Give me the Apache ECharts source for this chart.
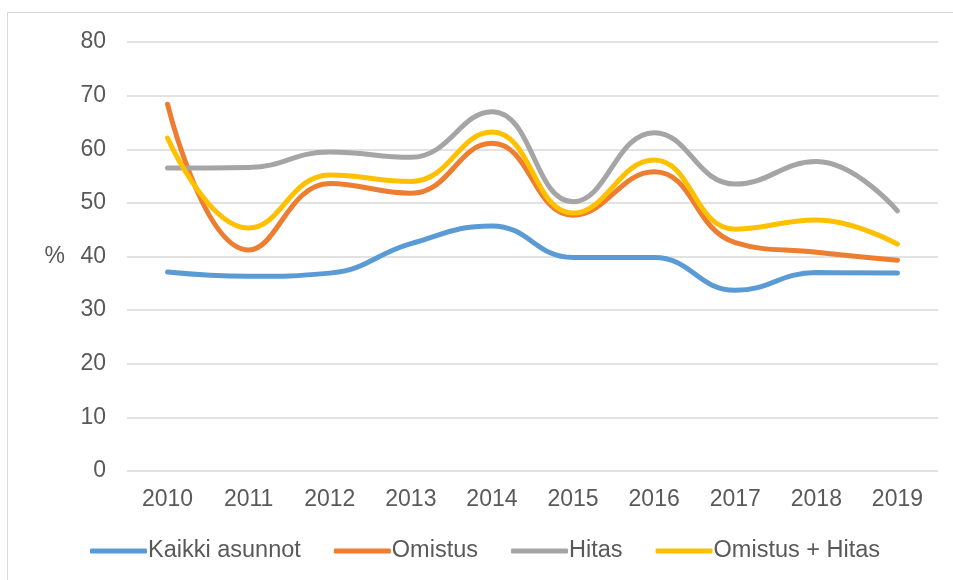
<!DOCTYPE html>
<html>
<head>
<meta charset="utf-8">
<script src="https://cdn.jsdelivr.net/npm/echarts@6/dist/echarts.min.js"></script>
<style>
  html, body { margin: 0; padding: 0; background: #fff; }
  #chart { width: 953px; height: 580px; }
</style>
</head>
<body>
<div id="chart"></div>
<script>
const years = ['2010', '2011', '2012', '2013', '2014', '2015', '2016', '2017', '2018', '2019'];
const kaikki = [37.1, 36.3, 36.9, 42.4, 45.7, 39.8, 39.8, 33.7, 37.0, 36.9];
const omistus = [68.4, 41.2, 53.6, 51.8, 61.1, 47.7, 55.8, 42.6, 40.8, 39.3];
const hitas = [56.5, 56.6, 59.5, 58.5, 67.0, 50.2, 63.1, 53.5, 57.7, 48.5];
const omistusHitas = [62.1, 45.3, 55.2, 54.0, 63.2, 48.1, 58.0, 45.1, 46.8, 42.3];

const seriesDefs = [
    { name: 'Kaikki asunnot', data: kaikki, color: '#5B9BD5' },
    { name: 'Omistus', data: omistus, color: '#ED7D31' },
    { name: 'Hitas', data: hitas, color: '#A5A5A5' },
    { name: 'Omistus + Hitas', data: omistusHitas, color: '#FFC000' }
];

const font = 'Liberation Sans, Arial, sans-serif';
const chart = echarts.init(document.getElementById('chart'));

chart.setOption({
    animation: false,
    backgroundColor: '#fff',
    graphic: [{
        type: 'rect',
        shape: { x: 7.5, y: 12.5, width: 1000, height: 700 },
        style: { fill: 'none', stroke: '#D9D9D9', lineWidth: 1 },
        silent: true
    }],
    grid: { left: 127, right: 15, top: 42, bottom: 109 },
    legend: {
        bottom: 12,
        left: 85,
        itemGap: 33,
        itemWidth: 57,
        itemHeight: 5,
        icon: 'roundRect',
        textStyle: { color: '#595959', fontSize: 23.5, fontFamily: font, padding: [0, 0, 0, -4] },
        data: seriesDefs.map(s => s.name)
    },
    xAxis: {
        type: 'category',
        data: years,
        boundaryGap: true,
        axisLine: { show: false },
        axisTick: { show: false },
        axisLabel: { color: '#595959', fontSize: 23, fontFamily: font, margin: 17 }
    },
    yAxis: {
        type: 'value',
        min: 0,
        max: 80,
        interval: 10,
        name: '%',
        nameLocation: 'middle',
        nameRotate: 0,
        nameGap: 62,
        nameTextStyle: { color: '#595959', fontSize: 23, fontFamily: font },
        axisLabel: { color: '#595959', fontSize: 23, fontFamily: font, margin: 21 },
        splitLine: { lineStyle: { color: '#D9D9D9', width: 1.5 } },
        axisLine: { show: false },
        axisTick: { show: false }
    },
    series: seriesDefs.map(s => ({
        name: s.name,
        type: 'line',
        data: s.data,
        smooth: 0.45,
        symbol: 'none',
        color: s.color,
        lineStyle: { width: 5, color: s.color, cap: 'round' }
    }))
});
</script>
</body>
</html>
